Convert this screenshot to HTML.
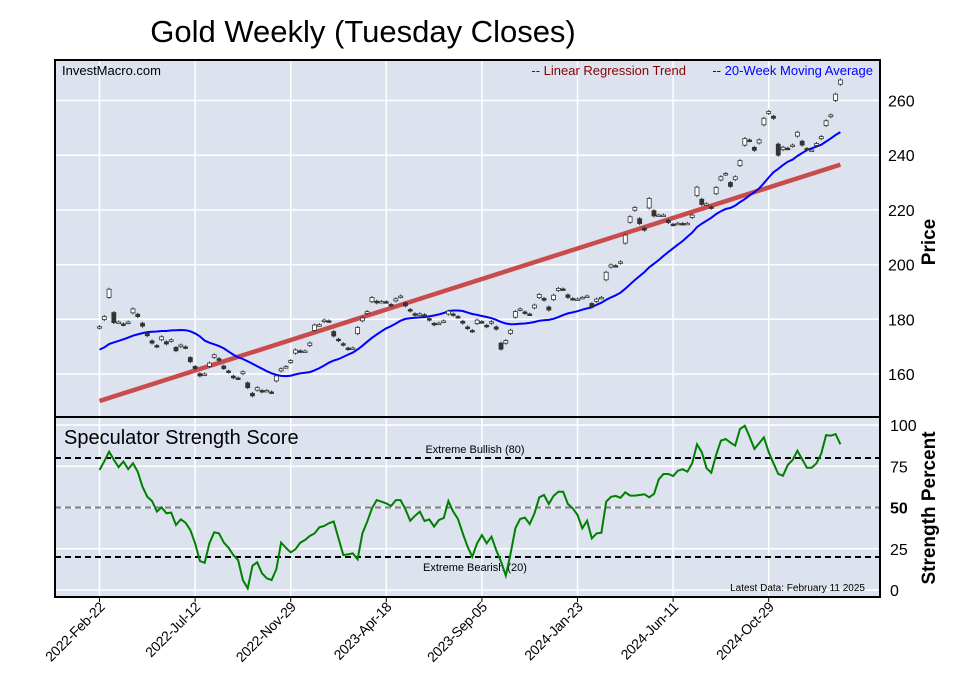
<!DOCTYPE html>
<html><head><meta charset="utf-8">
<style>
html,body{margin:0;padding:0;background:#fff;}
svg{display:block;font-family:"Liberation Sans",sans-serif;}
</style></head>
<body>
<svg id="chart" width="957" height="694" viewBox="0 0 957 694" xmlns="http://www.w3.org/2000/svg">
<text x="363" y="42" font-size="31" text-anchor="middle" fill="#000">Gold Weekly (Tuesday Closes)</text>
<rect x="55" y="60" width="825" height="357" fill="#dce2ee"/>
<rect x="55" y="417" width="825" height="180" fill="#dce2ee"/>
<g id="grid"></g>
<g id="marks"></g>
<rect x="55" y="60" width="825" height="537" fill="none" stroke="#000" stroke-width="2"/>
<line x1="55" y1="417" x2="880" y2="417" stroke="#000" stroke-width="2"/>
<text x="62" y="75" font-size="13">InvestMacro.com</text>
<text x="686" y="75" font-size="13" fill="#8b0000" text-anchor="end">-- Linear Regression Trend</text>
<text x="873" y="75" font-size="13" fill="#0000ff" text-anchor="end">-- 20-Week Moving Average</text>
<text x="64" y="444" font-size="20">Speculator Strength Score</text>
<text x="865" y="591" font-size="10" text-anchor="end">Latest Data: February 11 2025</text>
<text transform="translate(935,242) rotate(-90)" font-size="19" font-weight="bold" text-anchor="middle">Price</text>
<text transform="translate(935,508) rotate(-90)" font-size="19" font-weight="bold" text-anchor="middle">Strength Percent</text>
<g id="axes"></g>
</svg>
<script>
const dateLabels=["2022-Feb-22","2022-Jul-12","2022-Nov-29","2023-Apr-18","2023-Sep-05","2024-Jan-23","2024-Jun-11","2024-Oct-29"];
const priceTicks=[160,180,200,220,240,260];
const strengthTicks=[0,25,50,75,100];
const priorCloses=[165,166,167,168,166,167,170,171,168,167,169,168,170,171,168,167,169,171,173];
const closes=[177.3,181,191,178.8,179,178,179,183.8,181,177.5,174,171.3,170,173.6,171,172.5,168.5,170.6,169.6,164.5,
162,159.3,160,164,167,165,162,160.7,158.6,158.5,160.8,155,152,155,153.5,154,153.2,159.3,161.9,162.7,
164.9,168.8,168.3,168.4,171.3,177.9,178,179.7,179.3,173.9,172.2,170.6,169,169.5,177,180.5,182.8,188,186,186.5,
186.4,185,187.5,188.5,184.9,183,181.6,182,181.5,179.7,178,178.6,179.4,183,181.5,180.8,178.6,176.6,175.6,179.7,
178.9,177.3,179.1,176.4,169.1,172.2,176,182.8,183.8,182.2,181.8,185.2,189.1,187,183.4,188.8,191.3,191,188,187.4,
187.4,188,188.5,184.6,187.4,188,197.2,199.9,199.5,201,210.8,217.5,220.9,215,212.6,224.2,217.8,218.1,218.1,215.4,
214.5,215.1,215,215.1,218.1,228.3,222,222.2,220.6,228.2,232.1,233.3,228.6,232.1,238,246.1,245.3,241.8,245.6,253.5,
256,253.5,240,242.9,242.4,243.7,248.4,243.7,241.9,241.9,244.3,246.8,252.6,254.7,262.3,267.5];
const strength=[72.7,78,83.8,79,74.4,77.8,73.3,76.8,71.7,62.6,56.5,53.9,47.5,50.1,46.5,46.9,39.4,42.8,40.8,36.4,
28.3,17.6,16.5,28.3,35,34.3,28.7,25.6,21.2,18.2,6,1,14.7,16.8,10.1,7.1,6,12.7,28.7,25.6,
22.8,24.7,28.7,30.3,32.7,34.3,38,38.8,40.4,41.6,31.3,21.2,21.6,22.2,18.6,34.3,41.4,49.5,54.5,53.5,
52.5,50.9,54.5,54.5,48.9,42,45,47.5,41.8,42.8,38.4,42.4,43.6,53.9,47.5,43,34.3,26.2,20.2,28.3,
33.3,28.3,32.3,24.2,17.2,8.7,22.2,37.4,43,43.8,40,46.5,56.2,57.6,52.1,57,59.6,59.6,52.1,49.5,
45.5,37.4,42,31.3,34.3,34.7,53.5,56.5,57,55.9,59.2,57.2,57.2,57.6,58,56.2,58.2,67.1,70.3,70.3,
69.1,72.3,73.2,71.7,76.8,88.3,83.5,73.8,71.1,81.8,90.5,91.5,89.3,87.5,97.6,99.6,92.9,85.5,88.9,92.5,
83.5,76.8,70.3,69.3,75.8,78.8,84.4,79.2,74.1,74.1,76.8,82.8,93.9,93.5,94.5,88.3];

const NS="http://www.w3.org/2000/svg";
const X=i=>99.5+i*4.78;
const YP=v=>374-(v-160)*2.735;
const YS=v=>590-v*1.65;
function mk(tag,attrs,parent){const e=document.createElementNS(NS,tag);for(const k in attrs)e.setAttribute(k,attrs[k]);parent.appendChild(e);return e;}
const grid=document.getElementById('grid'),marks=document.getElementById('marks'),axes=document.getElementById('axes');

priceTicks.forEach(t=>{
  const l=mk('line',{x1:55,x2:880,y1:YP(t),y2:YP(t),stroke:'#fff','stroke-width':1.5},grid);
  
  
  const tx=mk('text',{x:888,y:YP(t)+6,'font-size':16},axes);tx.textContent=t;
  
  
});
strengthTicks.forEach(t=>{
  const l=mk('line',{x1:55,x2:880,y1:YS(t),y2:YS(t),stroke:'#fff','stroke-width':1.5},grid);
  
  
  const tx=mk('text',{x:890,y:YS(t)+6,'font-size':16,'font-weight':t===50?'bold':'normal'},axes);tx.textContent=t;
  
  
});
dateLabels.forEach((d,k)=>{
  const x=X(k*20);
  const l=mk('line',{x1:x,x2:x,y1:60,y2:597,stroke:'#fff','stroke-width':1.5},grid);
  
  
  const tk=mk('line',{x1:x,x2:x,y1:597,y2:602,stroke:'#000','stroke-width':1},axes);
  
  
  const tx=mk('text',{x:0,y:0,'font-size':14,'letter-spacing':'-0.3','text-anchor':'end',transform:`translate(${x+6},${608}) rotate(-45)`},axes);tx.textContent=d;
  
  
});

// regression
const n=closes.length;let sx=0,sy=0,sxx=0,sxy=0;
closes.forEach((c,i)=>{sx+=i;sy+=c;sxx+=i*i;sxy+=i*c;});
const b=(n*sxy-sx*sy)/(n*sxx-sx*sx),a=(sy-b*sx)/n;
const reg=mk('line',{x1:X(0),y1:YP(a),x2:X(n-1),y2:YP(a+b*(n-1)),stroke:'#c94b4b','stroke-width':4.5},marks);



// moving average
const all=priorCloses.concat(closes);
let pts=[];
for(let i=0;i<n;i++){let s=0;for(let j=i;j<i+20;j++)s+=all[j];pts.push(X(i).toFixed(1)+','+YP(s/20).toFixed(1));}
const ma=mk('polyline',{points:pts.join(' '),fill:'none',stroke:'#0000ff','stroke-width':2},marks);



// candles
closes.forEach((c,i)=>{
  const o=i===0?c-0.5:c-(c-closes[i-1])*0.3;
  const up=c>=o;
  const top=YP(Math.max(o,c)),bot=YP(Math.min(o,c));
  const x=X(i);
  const w=mk('line',{x1:x,x2:x,y1:top-1.5,y2:bot+1.5,stroke:'#333','stroke-width':1},marks);
  
  
  const r=mk('rect',{x:x-2,y:top,width:4,height:Math.max(1.5,bot-top),fill:up?'#fff':'#333',stroke:'#333','stroke-width':0.8},marks);
  
  
});

// strength panel
[[80,'#000','extreme-bullish-line'],[20,'#000','extreme-bearish-line'],[50,'#808080','midline-50']].forEach(([v,col,name])=>{
  const l=mk('line',{x1:55,x2:880,y1:YS(v),y2:YS(v),stroke:col,'stroke-width':2,'stroke-dasharray':'6,4'},marks);
  
  
});
const t1=mk('text',{x:475,y:YS(80)-5,'font-size':11,'text-anchor':'middle'},marks);t1.textContent='Extreme Bullish (80)';


const t2=mk('text',{x:475,y:YS(20)+14,'font-size':11,'text-anchor':'middle'},marks);t2.textContent='Extreme Bearish (20)';


const sp=strength.map((v,i)=>X(i).toFixed(1)+','+YS(v).toFixed(1)).join(' ');
const sl=mk('polyline',{points:sp,fill:'none',stroke:'#008000','stroke-width':2},marks);


</script>
</body></html>
